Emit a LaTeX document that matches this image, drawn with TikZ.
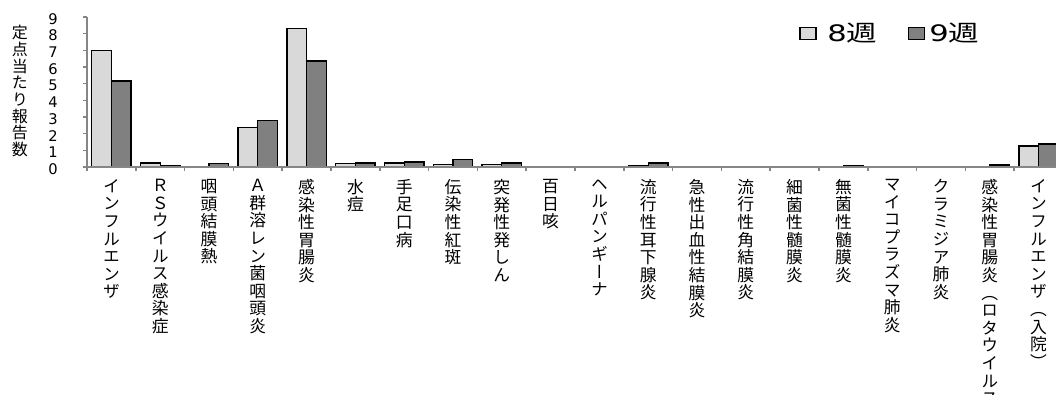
\documentclass[tikz,border=0pt]{standalone}
\usepackage{graphicx}
\usepackage{fontspec}
\setmainfont{Noto Sans CJK JP}
\newfontfamily\tatefont[RawFeature=+vert]{Noto Sans CJK JP}
\newfontfamily\digitfont{DejaVu Sans}
\usetikzlibrary{positioning}
\definecolor{week8}{HTML}{D9D9D9}
\definecolor{week9}{HTML}{808080}
\definecolor{axisgray}{HTML}{868686}
% characters stacked one under the other
\makeatletter
\newcommand\tate[1]{\vbox{\tatefont\lineskiplimit=-\maxdimen\expandafter\tate@a#1\relax}}
\def\tate@a#1{\ifx#1\relax\else\hbox to 1em{\hss#1\hss}\expandafter\tate@a\fi}
\makeatother

\begin{document}
\begin{tikzpicture}[x=0.75pt, y=-0.75pt,
                    bar/.style={draw=black, line width=1pt},
                    axisline/.style={draw=axisgray, line width=1.1pt},
                    catlabel/.style={anchor=north, inner sep=0, font={\fontsize{12.6}{13.2}\selectfont}},
                    ytick/.style={inner sep=0, font={\digitfont\fontsize{11}{13}\selectfont}},
                    legbox/.style={draw=black, line width=0.8pt, minimum width=12pt, minimum height=8.5pt, inner sep=0},
                    legtext/.style={inner sep=0, font={\fontsize{17}{19}\selectfont}}]
    \useasboundingbox (0,0) rectangle (1056,394);
    \clip (0,0) rectangle (1056,394);

    % bars: week 8 / week 9
    \foreach \v/\w [count=\i from 0] in {7.0/5.15, 0.24/0.08, 0.04/0.2, 2.35/2.78, 8.32/6.35,
                                        0.23/0.25, 0.25/0.3, 0.15/0.45, 0.15/0.25, 0/0,
                                        0.03/0, 0.1/0.25, 0/0, 0/0.05, 0/0,
                                        0/0.1, 0/0, 0/0, 0/0.12, 1.26/1.38} {
        \pgfmathsetmacro\xa{87+48.8*\i+4.7}
        \ifdim\v pt>0pt \draw [bar, fill=week8] (\xa,167) rectangle ++(19.7,{-\v*16.67}); \fi
        \ifdim\w pt>0pt \draw [bar, fill=week9] (\xa+19.7,167) rectangle ++(19.7,{-\w*16.67}); \fi
    }

    % axes
    \draw [axisline] (87,17) -- (87,167) -- (1056,167);
    \foreach \i in {0,...,20}
        \draw [axisline] ({87+48.8*\i},167) -- ++(0,4);
    \foreach \n in {0,...,9} {
        \draw [axisline] (83,{167-16.67*\n}) -- (87,{167-16.67*\n});
        \node (y\n) [ytick] at (53,{169-16.67*\n}) {\n};
    }
    \node (ylabel) [anchor=north, inner sep=0, font={\fontsize{12}{12.5}\selectfont}] at (20,25)
        {\tate{定点当たり報告数}};

    % category names
    \foreach \t [count=\i from 0] in {インフルエンザ, ＲＳウイルス感染症, 咽頭結膜熱, Ａ群溶レン菌咽頭炎,
                                     感染性胃腸炎, 水痘, 手足口病, 伝染性紅斑, 突発性発しん, 百日咳,
                                     ヘルパンギーナ, 流行性耳下腺炎, 急性出血性結膜炎, 流行性角結膜炎,
                                     細菌性髄膜炎, 無菌性髄膜炎, マイコプラズマ肺炎, クラミジア肺炎,
                                     感染性胃腸炎（ロタウイルス, インフルエンザ（入院）}
        \node (cat\i) [catlabel] at ({87+48.8*\i+24.4},179) {\tate{\t}};

    % legend
    \node (leg8) [legbox, fill=week8] at (808,33.5) {};
    \node (leg8t) [legtext, right=8pt of leg8] {\scalebox{1.35}[1]{{\digitfont 8}週}};
    \node (leg9) [legbox, fill=week9] at (916.5,33.5) {};
    \node (leg9t) [legtext, right=3pt of leg9] {\scalebox{1.35}[1]{{\digitfont 9}週}};
\end{tikzpicture}
\end{document}
